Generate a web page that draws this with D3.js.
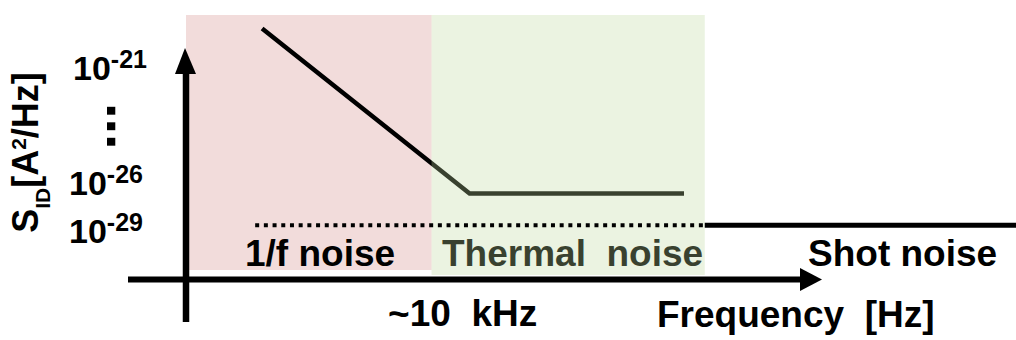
<!DOCTYPE html>
<html>
<head>
<meta charset="utf-8">
<script src="https://cdn.jsdelivr.net/npm/d3@7"></script>
<style>
  body { margin: 0; background: #fff; }
  text { font-family: "Liberation Sans", Arial, sans-serif; font-weight: bold; white-space: pre; }
</style>
</head>
<body>
<div id="chart"></div>
<script>
// log10 of frequency [Hz] and log10 of S_ID [A^2/Hz]
var regionNames = ["1/f noise", "Thermal  noise"];
var regionFrom = [0, 3.55];
var regionTo = [3.55, 7.5];
var regionFill = ["#f2dcdb", "rgb(190,214,155)"];

var spectrumF = [1.1, 4.1, 7.2];
var spectrumS = [-19.3, -26.7, -26.7];

var shotF = [1.0, 7.5, 12.2];   // dotted up to 7.5, solid after
var shotS = -28.7;

var tickExp = [-21, -26, -29];
var cornerF = 4;                 // ~10 kHz

var svgWidth = 1016;
var svgHeight = 340;

var svg = d3.select("#chart")
  .append("svg")
  .attr("width", svgWidth)
  .attr("height", svgHeight);

var x = d3.scaleLinear().domain([0, 12]).range([186, 1016]);
var y = d3.scaleLinear().domain([-29, -26, -21]).range([230, 182.5, 67.5]);

var axisY = 279.5;

// pink region behind everything
svg.append("rect")
  .attr("x", x(regionFrom[0]))
  .attr("y", 15)
  .attr("width", x(regionTo[0]) - x(regionFrom[0]))
  .attr("height", 255)
  .attr("fill", regionFill[0]);

// spectrum
var line = d3.line()
  .x(function(d, i) { return x(spectrumF[i]); })
  .y(function(d, i) { return y(spectrumS[i]); });

svg.append("path")
  .datum(spectrumF)
  .attr("d", line)
  .attr("fill", "none")
  .attr("stroke", "#000")
  .attr("stroke-width", 4.5);

// region labels
svg.append("text")
  .attr("x", 245).attr("y", 266)
  .attr("font-size", "37px")
  .text(regionNames[0]);

svg.append("text")
  .attr("x", 442).attr("y", 266)
  .attr("font-size", "37px")
  .text(regionNames[1]);

// green region drawn on top, semi transparent, tints the curve and text
svg.append("rect")
  .attr("x", x(regionFrom[1]))
  .attr("y", 15)
  .attr("width", x(regionTo[1]) - x(regionFrom[1]))
  .attr("height", 260)
  .attr("fill", regionFill[1])
  .attr("opacity", 0.3);

// shot noise floor
svg.append("line")
  .attr("x1", x(shotF[0])).attr("x2", x(shotF[1]))
  .attr("y1", y(shotS)).attr("y2", y(shotS))
  .attr("stroke", "#000")
  .attr("stroke-width", 4)
  .attr("stroke-dasharray", "4,4.7");

svg.append("line")
  .attr("x1", x(shotF[1])).attr("x2", x(shotF[2]))
  .attr("y1", y(shotS)).attr("y2", y(shotS))
  .attr("stroke", "#000")
  .attr("stroke-width", 5);

svg.append("text")
  .attr("x", 808).attr("y", 266)
  .attr("font-size", "37px")
  .text("Shot noise");

// axes with arrow heads
svg.append("line")
  .attr("x1", 186).attr("x2", 186)
  .attr("y1", 322).attr("y2", 70)
  .attr("stroke", "#000")
  .attr("stroke-width", 6.5);
svg.append("path")
  .attr("d", "M185,48 L196,74 L175,74 Z")
  .attr("fill", "#000");

svg.append("line")
  .attr("x1", 128).attr("x2", 802)
  .attr("y1", axisY).attr("y2", axisY)
  .attr("stroke", "#000")
  .attr("stroke-width", 6);
svg.append("path")
  .attr("d", "M822," + axisY + " L800," + (axisY - 11.5) + " L800," + (axisY + 11.5) + " Z")
  .attr("fill", "#000");

// y tick labels
var ticks = svg.selectAll(".tick")
  .data(tickExp)
  .enter()
  .append("text")
  .attr("class", "tick")
  .attr("text-anchor", "end")
  .attr("x", function(d, i) { return i == 0 ? 147 : 143; })
  .attr("y", function(d) { return y(d) + 12.5; })
  .attr("font-size", "34px");
ticks.append("tspan").text("10");
ticks.append("tspan")
  .attr("font-size", "25px")
  .attr("dy", -12)
  .text(function(d) { return d; });

// vertical ellipsis between the ticks
svg.append("text")
  .attr("transform", "translate(106.5,103) rotate(90)")
  .attr("font-size", "56px")
  .text("...");

// y axis title
var ylab = svg.append("text")
  .attr("transform", "translate(38,152.5) rotate(-90)")
  .attr("text-anchor", "middle")
  .attr("font-size", "36px");
ylab.append("tspan").text("S");
ylab.append("tspan").attr("font-size", "21px").attr("dy", 12).text("ID");
ylab.append("tspan").attr("dy", -12).text("[A");
ylab.append("tspan").attr("font-size", "21px").attr("dy", -12).text("2");
ylab.append("tspan").attr("dy", 12).text("/Hz]");

// x labels
svg.append("text")
  .attr("x", x(cornerF)).attr("y", 326)
  .attr("text-anchor", "middle")
  .attr("font-size", "37px")
  .text("~10  kHz");

svg.append("text")
  .attr("x", 657).attr("y", 327)
  .attr("font-size", "37px")
  .text("Frequency  [Hz]");
</script>
</body>
</html>
